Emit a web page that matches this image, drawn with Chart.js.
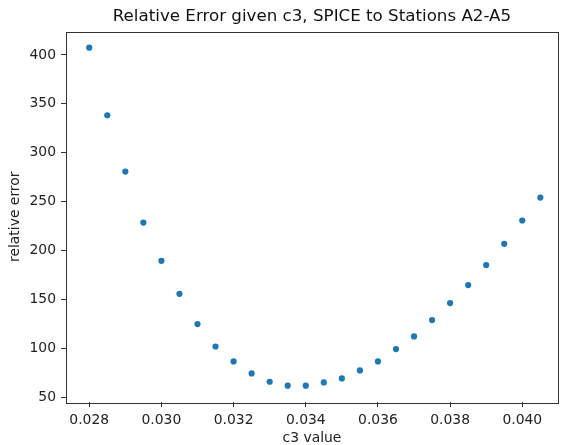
<!DOCTYPE html>
<html>
<head>
<meta charset="utf-8">
<script src="https://cdn.jsdelivr.net/npm/chart.js@4/dist/chart.umd.min.js"></script>
<style>
html,body{margin:0;padding:0;background:#fff;overflow:hidden;}
canvas{display:block;}
</style>
</head>
<body>
<canvas id="c" width="561" height="445"></canvas>
<script>
const titleText = "Relative Error given c3, SPICE to Stations A2-A5";
const xLabel = "c3 value";
const yLabel = "relative error";
const c3Values = [0.028,0.0285,0.029,0.0295,0.030,0.0305,0.031,0.0315,0.032,0.0325,0.033,0.0335,0.034,0.0345,0.035,0.0355,0.036,0.0365,0.037,0.0375,0.038,0.0385,0.039,0.0395,0.040,0.0405];
const relErrors = [407.5,338.3,280.7,228.5,189.4,155.6,124.6,101.7,86.4,74.1,65.6,61.6,61.6,64.9,69.0,77.2,86.4,99.1,112.0,128.7,146.1,164.5,185.0,206.7,230.6,254.1];
const xTicks = [0.028,0.030,0.032,0.034,0.036,0.038,0.040];
const yTicks = [50,100,150,200,250,300,350,400];

const FONT = "DejaVu Sans";
const frame = {
  id: 'frame',
  afterDraw(chart) {
    const {ctx, chartArea: a} = chart;
    ctx.save();
    ctx.strokeStyle = '#333';
    ctx.lineWidth = 1;
    ctx.strokeRect(Math.round(a.left)+0.5, Math.round(a.top)+0.5, Math.round(a.right-a.left), Math.round(a.bottom-a.top));
    ctx.fillStyle = '#111';
    ctx.font = '16.7px "' + FONT + '"';
    ctx.textAlign = 'center';
    ctx.textBaseline = 'middle';
    ctx.fillText(titleText, (a.left + a.right) / 2, 17);
    ctx.restore();
  }
};

new Chart(document.getElementById('c'), {
  type: 'scatter',
  data: {
    datasets: [{
      data: c3Values.map((x, i) => ({x: x, y: relErrors[i]})),
      backgroundColor: '#1f77b4',
      borderWidth: 0,
      pointRadius: 3.1,
      pointHoverRadius: 3.1
    }]
  },
  options: {
    responsive: false,
    animation: false,
    devicePixelRatio: 1,
    layout: {padding: {top: 31.5, right: 2, left: 0, bottom: 0}},
    plugins: {legend: {display: false}, tooltip: {enabled: false}, title: {display: false}},
    scales: {
      x: {
        type: 'linear',
        min: 0.027356,
        max: 0.040987,
        afterBuildTicks: s => { s.ticks = xTicks.map(v => ({value: v})); },
        afterFit: s => { s.height = 43; },
        grid: {drawOnChartArea: false, drawTicks: true, tickLength: 5, color: '#333'},
        border: {display: false},
        ticks: {
          color: '#222', padding: 5, maxRotation: 0,
          font: {family: FONT, size: 13.9},
          callback: v => v.toFixed(3)
        },
        title: {display: true, text: xLabel, color: '#222', font: {family: FONT, size: 13.9}, padding: {top: 0, bottom: -1.5}}
      },
      y: {
        type: 'linear',
        min: 44.9,
        max: 424,
        afterBuildTicks: s => { s.ticks = yTicks.map(v => ({value: v})); },
        afterFit: s => { s.width = 66; },
        grid: {drawOnChartArea: false, drawTicks: true, tickLength: 5, color: '#333'},
        border: {display: false},
        ticks: {
          color: '#222', padding: 5,
          font: {family: FONT, size: 13.9},
          callback: v => String(v)
        },
        title: {display: true, text: yLabel, color: '#222', font: {family: FONT, size: 13.9}, padding: {top: 7, bottom: 0}}
      }
    }
  },
  plugins: [frame]
});
</script>
</body>
</html>
